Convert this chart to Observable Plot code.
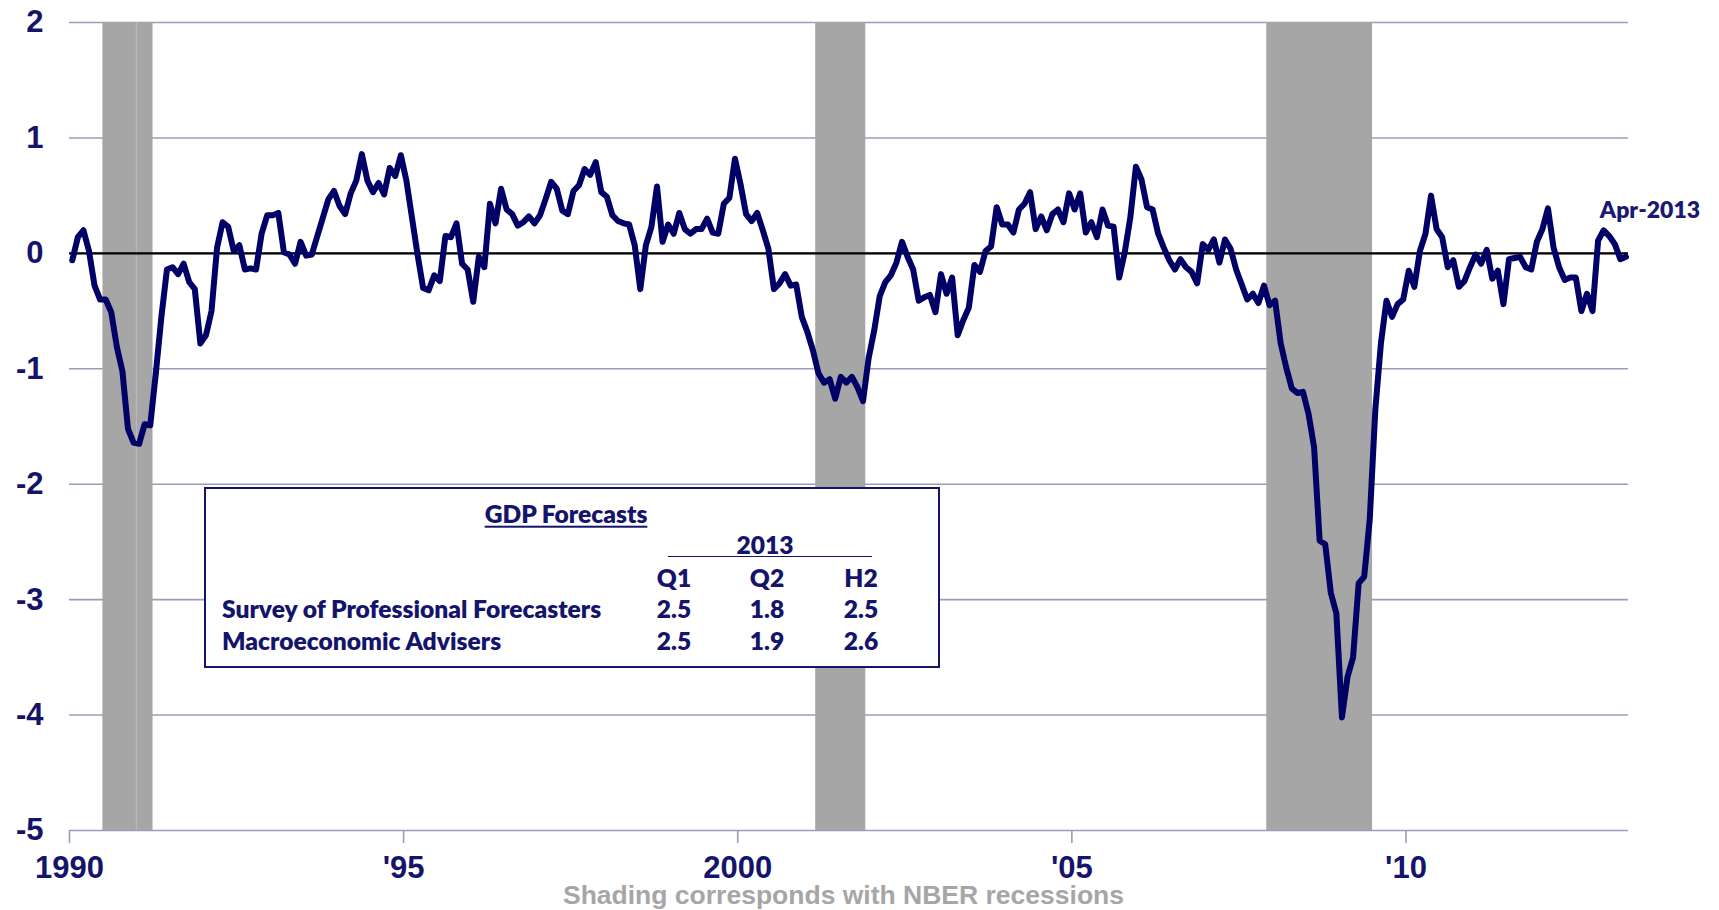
<!DOCTYPE html>
<html>
<head>
<meta charset="utf-8">
<script src="https://cdn.jsdelivr.net/npm/d3@7"></script>
<script src="https://cdn.jsdelivr.net/npm/@observablehq/plot@0.6"></script>
<style>
  body { margin: 0; background: #fff; }
  #wrap { position: relative; width: 1719px; height: 910px; overflow: hidden; background: #fff; }
  #chart { position: absolute; left: 0; top: 0; }
  #caption { position: absolute; left: 64px; width: 1559px; top: 881px; text-align: center;
    font: bold 26.5px "Liberation Sans", Arial, sans-serif; color: #a6a6a6; line-height: 28px; }
  #box { position: absolute; left: 204px; top: 487px; width: 732px; height: 177px;
    border: 2px solid #14146b; background: #fff; }
  .c { position: absolute; transform: translate(-50%, -50%); font: 800 24.6px Lato, sans-serif;
    color: #14146b; white-space: nowrap; line-height: 1; }
  .l { position: absolute; transform: translate(0, -50%); font: 800 24.6px Lato, sans-serif;
    color: #14146b; white-space: nowrap; line-height: 1; }
  .u { text-decoration: underline; text-decoration-thickness: 2px; text-underline-offset: 3px; }
  #rule2013 { position: absolute; left: 668px; width: 204px; top: 556px; height: 0; border-top: 1.6px solid #14146b; }
</style>
</head>
<body>
<div id="wrap">
  <div id="chart"></div>
  <div id="box"></div>
  <div id="table"></div>
  <div id="caption"></div>
</div>
<script>
// ---------- data ----------
const startYear = 1990;
const startMonth = 1;
// Chicago Fed National Activity Index, 3-month moving average
const cfnaiMA3 = [
  -0.06, 0.14, 0.20, 0.02, -0.28, -0.40, -0.40, -0.51, -0.81, -1.02, -1.52, -1.64,
  -1.65, -1.48, -1.49, -1.04, -0.55, -0.14, -0.12, -0.18, -0.09, -0.25, -0.31, -0.78,
  -0.71, -0.50, 0.05, 0.27, 0.23, 0.02, 0.07, -0.14, -0.13, -0.14, 0.17, 0.33,
  0.33, 0.35, 0.01, -0.01, -0.09, 0.10, -0.02, -0.01, 0.15, 0.31, 0.47, 0.54,
  0.41, 0.34, 0.52, 0.63, 0.86, 0.63, 0.53, 0.61, 0.51, 0.74, 0.67, 0.85,
  0.63, 0.31, -0.01, -0.30, -0.32, -0.19, -0.24, 0.15, 0.14, 0.26, -0.09, -0.14,
  -0.42, -0.03, -0.12, 0.43, 0.26, 0.56, 0.38, 0.34, 0.24, 0.27, 0.32, 0.26,
  0.33, 0.47, 0.62, 0.56, 0.37, 0.34, 0.54, 0.59, 0.73, 0.68, 0.79, 0.53,
  0.49, 0.33, 0.28, 0.26, 0.25, 0.07, -0.31, 0.07, 0.23, 0.58, 0.10, 0.25,
  0.17, 0.35, 0.21, 0.17, 0.21, 0.21, 0.30, 0.18, 0.17, 0.43, 0.48, 0.82,
  0.60, 0.34, 0.28, 0.35, 0.20, 0.04, -0.31, -0.26, -0.18, -0.28, -0.27, -0.55,
  -0.68, -0.84, -1.04, -1.12, -1.09, -1.26, -1.07, -1.12, -1.07, -1.16, -1.28, -0.91,
  -0.67, -0.37, -0.25, -0.19, -0.08, 0.10, -0.03, -0.14, -0.41, -0.38, -0.36, -0.51,
  -0.18, -0.35, -0.21, -0.71, -0.58, -0.47, -0.10, -0.16, 0.02, 0.06, 0.40, 0.25,
  0.25, 0.18, 0.38, 0.43, 0.53, 0.21, 0.32, 0.20, 0.34, 0.38, 0.27, 0.52,
  0.38, 0.52, 0.18, 0.27, 0.14, 0.38, 0.24, 0.23, -0.21, 0.01, 0.31, 0.75,
  0.64, 0.40, 0.38, 0.17, 0.05, -0.06, -0.14, -0.05, -0.12, -0.16, -0.26, 0.08,
  0.03, 0.12, -0.08, 0.12, 0.04, -0.14, -0.27, -0.40, -0.35, -0.43, -0.28, -0.45,
  -0.41, -0.78, -0.99, -1.17, -1.21, -1.20, -1.39, -1.68, -2.49, -2.52, -2.94, -3.12,
  -4.02, -3.67, -3.50, -2.86, -2.80, -2.30, -1.35, -0.78, -0.41, -0.55, -0.44, -0.40,
  -0.15, -0.29, 0.02, 0.17, 0.50, 0.21, 0.14, -0.12, -0.06, -0.29, -0.24, -0.12,
  -0.01, -0.09, 0.03, -0.22, -0.15, -0.44, -0.05, -0.04, -0.03, -0.12, -0.14, 0.10,
  0.21, 0.39, 0.05, -0.12, -0.23, -0.21, -0.21, -0.50, -0.35, -0.50, 0.11, 0.20,
  0.15, 0.08, -0.05, -0.03
];
const recessionStarts = ["1990-07", "2001-03", "2007-12"];
const recessionEnds = ["1991-03", "2001-11", "2009-06"];
const yTicks = [-5, -4, -3, -2, -1, 0, 1, 2];
const xTicks = [1990, 1995, 2000, 2005, 2010];
const xTickLabels = ["1990", "'95", "2000", "'05", "'10"];
const lastLabel = "Apr-2013";
const captionText = "Shading corresponds with NBER recessions";

const tableTitle = "GDP Forecasts";
const tableYear = "2013";
const tableCols = ["Q1", "Q2", "H2"];
const tableRows = ["Survey of Professional Forecasters", "Macroeconomic Advisers"];
const spfValues = [2.5, 1.8, 2.5];
const maValues = [2.5, 1.9, 2.6];

// ---------- derived ----------
const data = cfnaiMA3.map((v, i) => ({ x: startYear + (startMonth - 1 + i + 0.5) / 12, v }));
const ym = s => s.split("-").map(Number);
const recessions = recessionStarts.map((s, i) => {
  const [y1, m1] = ym(s), [y2, m2] = ym(recessionEnds[i]);
  return { start: y1 + (m1 - 1) / 12, end: y2 + m2 / 12 };
});
const xLabel = new Map(xTicks.map((t, i) => [t, xTickLabels[i]]));
const navy = "#14146b";
const grid = "#9c9cba";

const chart = Plot.plot({
  width: 1719,
  height: 885,
  marginLeft: 69,
  marginRight: 91,
  marginTop: 22,
  marginBottom: 55,
  x: { type: "linear", domain: [1990, 2013.33], label: null },
  y: { domain: [-5, 2], label: null },
  style: {
    fontFamily: '"Liberation Sans", Arial, sans-serif',
    fontSize: "31px",
    fontWeight: "bold",
    background: "#fff",
    overflow: "visible"
  },
  marks: [
    Plot.ruleY(yTicks, { stroke: grid, strokeWidth: 1.6 }),
    Plot.rect(recessions, { x1: "start", x2: "end", y1: -5, y2: 2, fill: "#a6a6a6" }),
    Plot.ruleX([recessions[0].start + 0.5], { y1: -5, y2: 2, stroke: "#bcbcbc", strokeWidth: 1 }),
    Plot.ruleY([0], { stroke: "#000", strokeWidth: 2.2 }),
    Plot.line(data, { x: "x", y: "v", stroke: "#000066", strokeWidth: 6, strokeLinejoin: "round", strokeLinecap: "round" }),
    Plot.text([data[data.length - 1]], {
      x: "x", y: "v", text: () => lastLabel, dx: 24, dy: -46,
      fontFamily: "Lato, sans-serif", fontSize: 23, fontWeight: 800, fill: "#1a1a6e"
    }),
    Plot.axisY(yTicks, { label: null, tickSize: 0, tickPadding: 26, tickFormat: d => String(d), fill: navy }),
    Plot.axisX(xTicks, { label: null, tickSize: 13, tickPadding: 12, tickFormat: d => xLabel.get(d), fill: navy, stroke: grid, strokeWidth: 1.6 })
  ]
});
document.getElementById("chart").appendChild(chart);
document.getElementById("caption").textContent = captionText;

// ---------- inset table ----------
const table = document.getElementById("table");
function add(cls, text, x, y) {
  const s = document.createElement("div");
  s.className = cls;
  s.textContent = text;
  s.style.left = x + "px";
  s.style.top = y + "px";
  table.appendChild(s);
}
add("c u", tableTitle, 566, 514);
add("c", tableYear, 765, 545);
const rule = document.createElement("div"); rule.id = "rule2013"; table.appendChild(rule);
const colX = [674, 767, 861];
tableCols.forEach((c, i) => add("c", c, colX[i], 578));
add("l", tableRows[0], 222, 609);
add("l", tableRows[1], 222, 641);
spfValues.forEach((v, i) => add("c", v.toFixed(1), colX[i], 609));
maValues.forEach((v, i) => add("c", v.toFixed(1), colX[i], 641));
</script>
</body>
</html>
